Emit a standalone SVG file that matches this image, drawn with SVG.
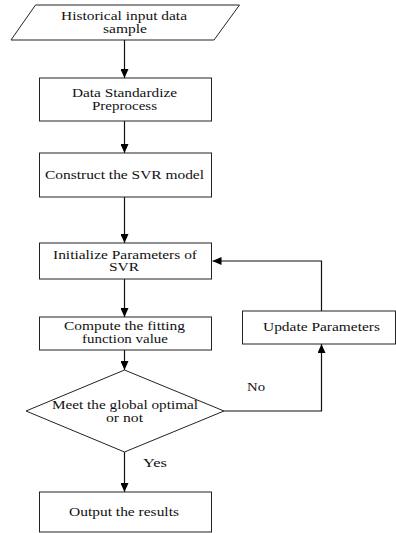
<svg xmlns="http://www.w3.org/2000/svg" width="396" height="533" viewBox="0 0 396 533">
<defs>
<marker id="ah" markerWidth="9" markerHeight="8" refX="9" refY="4" orient="auto" markerUnits="userSpaceOnUse">
<path d="M0,0 L9,4 L0,8 Z" fill="#000"/>
</marker>
<style>
.n{fill:#fff;stroke:#222;stroke-width:1}
.t{font-family:'Liberation Serif','DejaVu Serif',serif;font-size:12.5px;fill:#111;text-anchor:middle}
.c{fill:none;stroke:#111;stroke-width:1.2;marker-end:url(#ah)}
</style>
</defs>
<rect width="396" height="533" fill="#fff"/>
<g id="connectors">
<path class="c" d="M124.5,40 V78"/>
<path class="c" d="M124.5,121 V153"/>
<path class="c" d="M124.5,197 V243"/>
<path class="c" d="M124.5,279 V317"/>
<path class="c" d="M124.5,350 V370"/>
<path class="c" d="M124.5,452 V492"/>
<path class="c" d="M224,411 H321.5 V344"/>
<path class="c" d="M321.5,311 V261 H212.5"/>
<text class="t" x="256" y="391" textLength="18" lengthAdjust="spacingAndGlyphs">No</text>
<text class="t" x="155" y="467" textLength="24" lengthAdjust="spacingAndGlyphs">Yes</text>
</g>
<g id="input">
<path class="n" d="M35.5,5 H239.5 L214,40 H11 Z"/>
<text class="t" x="124" y="20" textLength="126" lengthAdjust="spacingAndGlyphs">Historical input data</text>
<text class="t" x="125" y="33" textLength="44" lengthAdjust="spacingAndGlyphs">sample</text>
</g>
<g id="standardize">
<rect class="n" x="39.5" y="78" width="172" height="43"/>
<text class="t" x="124.5" y="97" textLength="105" lengthAdjust="spacingAndGlyphs">Data Standardize</text>
<text class="t" x="124.5" y="110" textLength="65" lengthAdjust="spacingAndGlyphs">Preprocess</text>
</g>
<g id="construct">
<rect class="n" x="39.5" y="153" width="172" height="44"/>
<text class="t" x="124.5" y="179" textLength="159" lengthAdjust="spacingAndGlyphs">Construct the SVR model</text>
</g>
<g id="initialize">
<rect class="n" x="39.5" y="243" width="172" height="36"/>
<text class="t" x="125" y="258.5" textLength="144" lengthAdjust="spacingAndGlyphs">Initialize Parameters of</text>
<text class="t" x="124" y="271" textLength="30" lengthAdjust="spacingAndGlyphs">SVR</text>
</g>
<g id="compute">
<rect class="n" x="39.5" y="317" width="172" height="33"/>
<text class="t" x="124.5" y="330" textLength="121" lengthAdjust="spacingAndGlyphs">Compute the fitting</text>
<text class="t" x="125" y="343" textLength="86" lengthAdjust="spacingAndGlyphs">function value</text>
</g>
<g id="decision">
<path class="n" d="M124.5,370 L224,411 L124.5,452 L26,411 Z"/>
<text class="t" x="125" y="408.5" textLength="146" lengthAdjust="spacingAndGlyphs">Meet the global optimal</text>
<text class="t" x="124.5" y="421.5" textLength="37" lengthAdjust="spacingAndGlyphs">or not</text>
</g>
<g id="update">
<rect class="n" x="242.5" y="311" width="153" height="33"/>
<text class="t" x="321.5" y="331" textLength="117" lengthAdjust="spacingAndGlyphs">Update Parameters</text>
</g>
<g id="output">
<rect class="n" x="39.5" y="492" width="172" height="40"/>
<text class="t" x="124" y="516" textLength="110" lengthAdjust="spacingAndGlyphs">Output the results</text>
</g>
</svg>
